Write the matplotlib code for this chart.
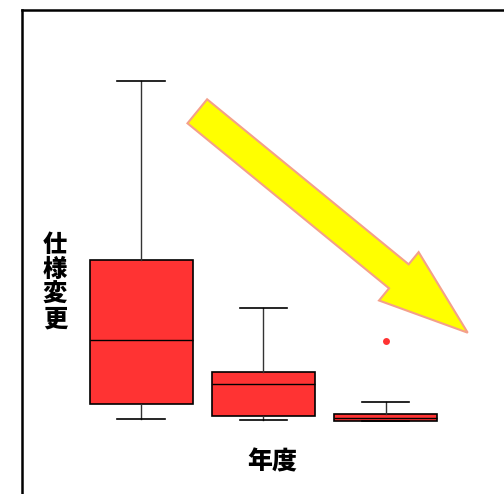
import matplotlib.pyplot as plt
from matplotlib.patches import FancyArrow

plt.rcParams['font.family'] = ['Noto Sans CJK JP', 'DejaVu Sans']

# box statistics per year
labels = ["1", "2", "3"]
whislo = [1.25, 1.0, 0.7]
q1 = [5.1, 1.9, 0.7]
med = [21.0, 9.9, 1.6]
q3 = [41.1, 13.1, 2.5]
whishi = [85.7, 29.0, 5.5]
fliers = [[], [], [20.75]]

stats = []
for i in range(len(labels)):
    stats.append(dict(label=labels[i], whislo=whislo[i], q1=q1[i], med=med[i],
                      q3=q3[i], whishi=whishi[i], fliers=fliers[i]))

W, H = 504, 494
fig = plt.figure(figsize=(W / 100, H / 100), dpi=100)

# axes runs past the right and bottom edge of the figure
left, right, top, bottom = 21.7, 530, 10, 510
ax = fig.add_axes([left / W, (H - bottom) / H, (right - left) / W, (bottom - top) / H])

ax.bxp(stats, widths=0.842, capwidths=0.385, patch_artist=True,
       boxprops=dict(facecolor="#ff3333", edgecolor="black", linewidth=1.2),
       medianprops=dict(color="black", linewidth=1.0),
       whiskerprops=dict(color="#333333", linewidth=1.0),
       capprops=dict(color="black", linewidth=1.2),
       flierprops=dict(marker="o", markersize=5, markerfacecolor="#ff3333",
                       markeredgecolor="none"))

ax.set_xlim(0.0245, 4.18)
ax.set_ylim(-21.5, 103.5)
ax.set_xticks([])
ax.set_yticks([])
for s in ["left", "top"]:
    ax.spines[s].set_linewidth(1.8)
    ax.spines[s].set_color("black")
for s in ["right", "bottom"]:
    ax.spines[s].set_visible(False)

# axis titles
fig.text(55 / W, 1 - 282 / H, "仕\n様\n変\n更", fontsize=17.5, fontweight="heavy",
         ha="center", va="center", linespacing=1.02)
fig.text(272 / W, 1 - 461 / H, "年度", fontsize=18, fontweight="heavy",
         ha="center", va="center")

# downward trend arrow on a pixel-unit overlay
ov = fig.add_axes([0, 0, 1, 1])
ov.set_xlim(0, W)
ov.set_ylim(H, 0)
ov.axis("off")
tail = (197.3, 111.3)
tip = (467.7, 332.7)
ov.add_patch(FancyArrow(tail[0], tail[1], tip[0] - tail[0], tip[1] - tail[1],
                        width=31, head_width=62.5, head_length=89,
                        length_includes_head=True, facecolor="#ffff00",
                        edgecolor="#f4a08a", linewidth=1.5))

fig.savefig("out.png", dpi=100)
